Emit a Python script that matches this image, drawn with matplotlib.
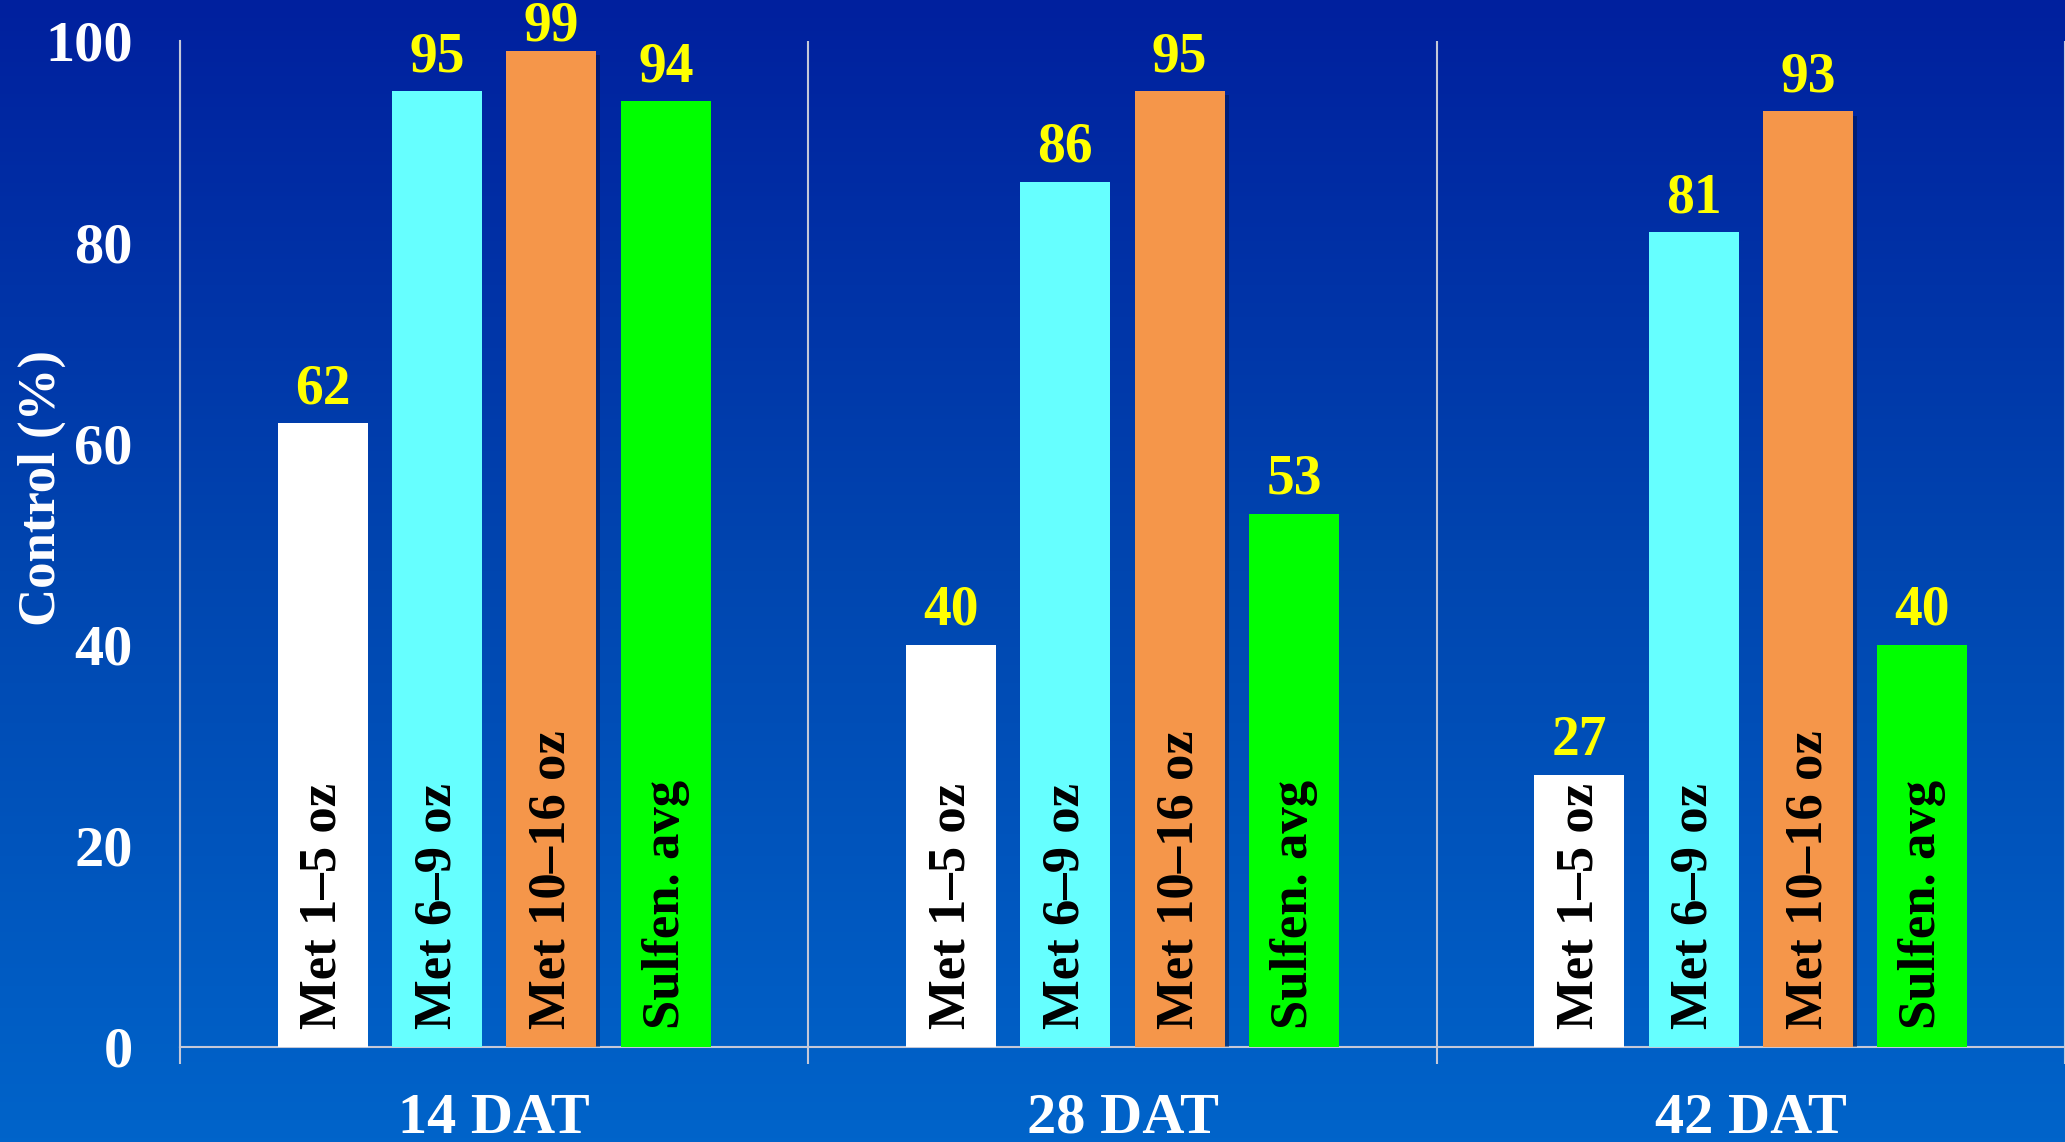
import numpy as np
import matplotlib
matplotlib.use("Agg")
import matplotlib.pyplot as plt
from matplotlib.colors import LinearSegmentedColormap
import matplotlib.patheffects as pe

# control ratings (%) by timing after treatment
timings = ["14 DAT", "28 DAT", "42 DAT"]
treatments = ["Met 1\u20135 oz", "Met 6\u20139 oz", "Met 10\u201316 oz", "Sulfen. avg"]
met_1_5 = [62, 40, 27]
met_6_9 = [95, 86, 81]
met_10_16 = [99, 95, 93]
sulfen_avg = [94, 53, 40]
yticks = [0, 20, 40, 60, 80, 100]

series = [met_1_5, met_6_9, met_10_16, sulfen_avg]
bar_colors = ["#FFFFFF", "#66FFFF", "#F5964A", "#00FF00"]
offsets = [-0.273, -0.091, 0.091, 0.273]
bar_w = 0.143
serif = "Liberation Serif"
line_col = "#C4C8D8"

fig = plt.figure(figsize=(20.65, 11.42), dpi=100)

## Background: vertical navy-to-blue gradient ##
bg = fig.add_axes([0, 0, 1, 1], zorder=0)
grad = np.linspace(0, 1, 256).reshape(-1, 1)
cmap = LinearSegmentedColormap.from_list("slide", ["#00209E", "#0046B0", "#0064CA"])
bg.imshow(grad, cmap=cmap, aspect="auto", extent=[0, 1, 0, 1])
bg.set_axis_off()

ax = fig.add_axes([0.0872, 0.0832, 0.9128, 0.8809], zorder=1)
ax.patch.set_alpha(0)

x = np.arange(len(timings))
for vals, off, col, name in zip(series, offsets, bar_colors, treatments):
    bars = ax.bar(x + off, vals, width=bar_w, color=col, zorder=3)
    if col == "#F5964A":
        for b in bars:
            b.set_path_effects([pe.SimplePatchShadow(offset=(3, -3), alpha=0.45, shadow_rgbFace="#001040"), pe.Normal()])
    for xi, v in zip(x + off, vals):
        # value above the bar, kept inside the top of the plot
        ax.text(xi, min(v + 2.0, 100.0), str(v), ha="center", va="baseline",
                color="#FFFF00", fontsize=40, fontweight="bold", family=serif,
                clip_on=False, zorder=4)
        ax.text(xi, 1.8, name, rotation=90, ha="center", va="bottom",
                color="black", fontsize=38, fontweight="bold", family=serif, zorder=4)

ax.set_xlim(-0.5, 2.5)
ax.set_ylim(0, 100)
ax.set_yticks(yticks)
ax.set_yticklabels([str(t) for t in yticks], color="white", fontsize=42,
                   fontweight="bold", family=serif)
ax.tick_params(axis="y", length=0, pad=34)

ax.set_xticks(x)
ax.set_xticklabels(timings, color="white", fontsize=42, fontweight="bold", family=serif)
ax.tick_params(axis="x", which="major", length=0, pad=33)
ax.set_xticks([-0.5, 0.5, 1.5, 2.5], minor=True)
ax.tick_params(axis="x", which="minor", length=12, width=1.5, color=line_col, direction="out")
ax.grid(which="minor", axis="x", color=line_col, linewidth=1.5, zorder=1)

for side in ["top", "right"]:
    ax.spines[side].set_visible(False)
for side in ["left", "bottom"]:
    ax.spines[side].set_color(line_col)
    ax.spines[side].set_linewidth(1.5)

fig.text(0.0205, 0.573, "Control (%)", rotation=90, ha="center", va="center",
         color="white", fontsize=38, fontweight="bold", family=serif)

fig.savefig("out.png", dpi=100)
